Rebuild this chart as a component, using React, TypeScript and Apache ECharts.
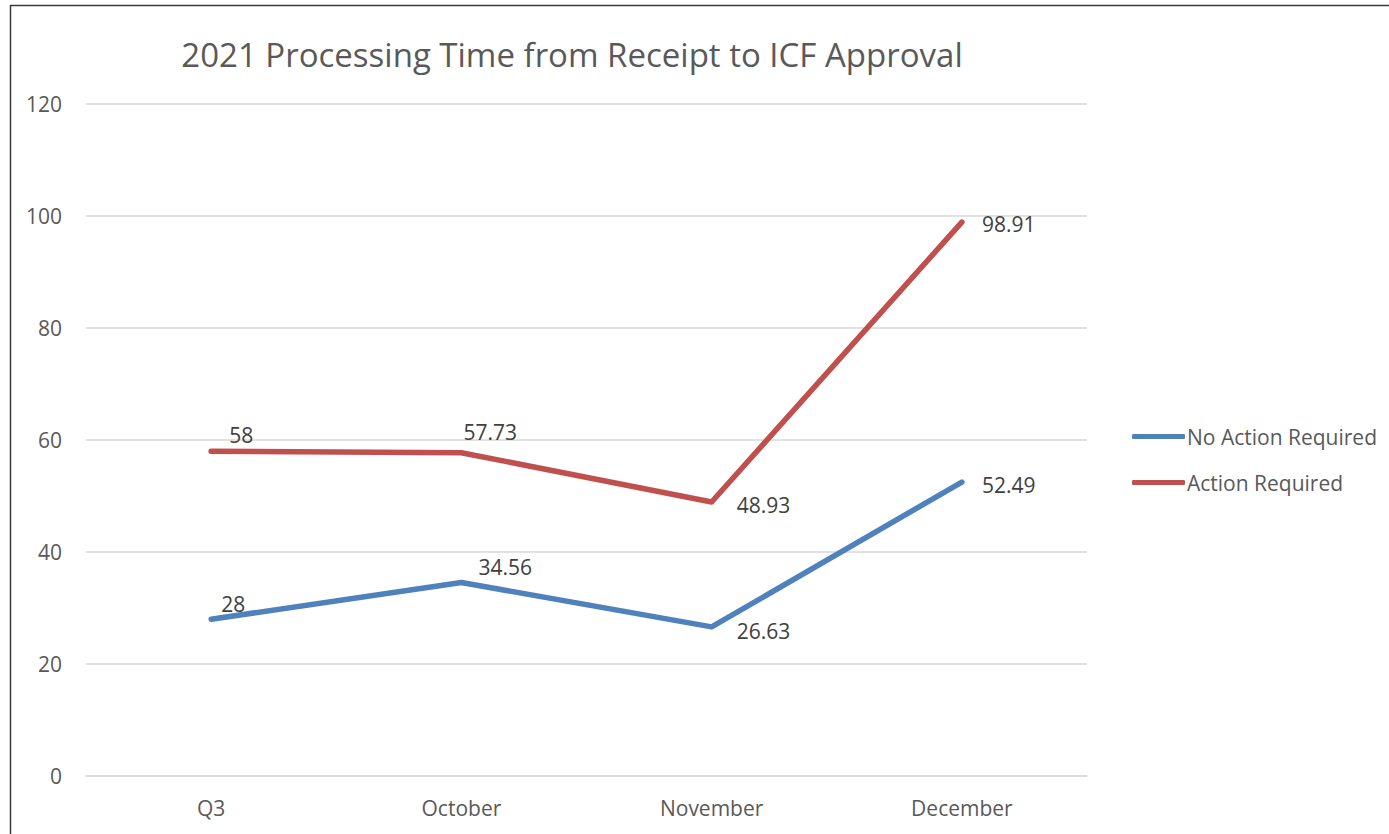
import React, { useEffect, useRef } from "react";
import * as echarts from "echarts";

const categories = ["Q3", "October", "November", "December"];
const noActionRequired = [28, 34.56, 26.63, 52.49];
const actionRequired = [58, 57.73, 48.93, 98.91];
const yMin = 0;
const yMax = 120;
const yInterval = 20;

const titleText = "2021 Processing Time from Receipt to ICF Approval";
const seriesNames = ["No Action Required", "Action Required"];

// label offsets (layout only)
const noActionOffsets = [[-10, -15], [-3, -15], [5, 4], [0, 3]];
const actionOffsets = [[-2, -16], [-18, -21], [5, 3], [0, 2]];

const FONT = "'Open Sans', sans-serif";

export default function App() {
  const ref = useRef<HTMLDivElement>(null);
  useEffect(() => {
    document.body.style.margin = "0";
    const chart = echarts.init(ref.current!, null, { renderer: "svg" });
    const mk = (vals: number[], offs: number[][]) =>
      vals.map((v, i) => ({
        value: v,
        label: { offset: offs[i] },
      }));
    const labelStyle = {
      show: true,
      position: "right",
      distance: 20,
      color: "#404040",
      fontSize: 21,
      fontFamily: FONT,
    };
    chart.setOption({
      animation: false,
      backgroundColor: "#ffffff",
      textStyle: { fontFamily: FONT },
      graphic: [
        {
          type: "rect",
          shape: { x: 10.5, y: 5.5, width: 1500, height: 1000 },
          style: { fill: "none", stroke: "#3a3a3a", lineWidth: 1.5 },
          silent: true,
        },
        {
          type: "text",
          x: 572,
          y: 54,
          style: {
            text: titleText,
            fill: "#595959",
            fontSize: 33,
            fontFamily: FONT,
            textAlign: "center",
            textVerticalAlign: "middle",
          },
        },
      ],
      legend: {
        orient: "vertical",
        left: 1127,
        top: 421,
        itemWidth: 53,
        itemHeight: 5,
        itemGap: 25,
        icon: "roundRect",
        textStyle: { color: "#595959", fontSize: 21, fontFamily: FONT, lineHeight: 20, padding: [0, 0, 0, -3] },
        data: seriesNames,
      },
      grid: { left: 86, right: 302, top: 104, bottom: 58 },
      xAxis: {
        type: "category",
        data: categories,
        boundaryGap: true,
        axisLine: { show: true, lineStyle: { color: "#d9d9d9", width: 1.5 } },
        axisTick: { show: false },
        axisLabel: { color: "#595959", fontSize: 21, fontFamily: FONT, margin: 21 },
      },
      yAxis: {
        type: "value",
        min: yMin,
        max: yMax,
        interval: yInterval,
        axisLine: { show: false },
        axisTick: { show: false },
        splitLine: { lineStyle: { color: "#d9d9d9", width: 1.5 } },
        axisLabel: { color: "#595959", fontSize: 21, fontFamily: FONT, margin: 24 },
      },
      series: [
        {
          name: seriesNames[0],
          type: "line",
          data: mk(noActionRequired, noActionOffsets),
          symbol: "circle",
          symbolSize: 0,
          showSymbol: true,
          lineStyle: { color: "#4f81bd", width: 5.5, cap: "round", join: "round" },
          itemStyle: { color: "#4f81bd" },
          label: labelStyle,
        },
        {
          name: seriesNames[1],
          type: "line",
          data: mk(actionRequired, actionOffsets),
          symbol: "circle",
          symbolSize: 0,
          showSymbol: true,
          lineStyle: { color: "#c0504d", width: 5.5, cap: "round", join: "round" },
          itemStyle: { color: "#c0504d" },
          label: labelStyle,
        },
      ],
    });
    return () => chart.dispose();
  }, []);
  return (
    <div
      ref={ref}
      style={{ position: "fixed", left: 0, top: 0, width: 1389, height: 834 }}
    />
  );
}
